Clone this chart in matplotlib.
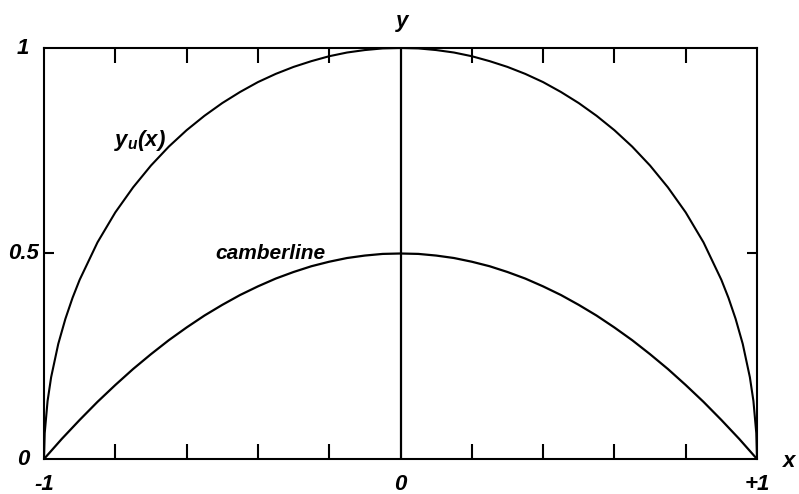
import matplotlib
matplotlib.use("Agg")
import matplotlib.pyplot as plt
from matplotlib import font_manager

# upper surface y_u(x)
x_upper = [-1, -0.998, -0.99, -0.98, -0.96, -0.94, -0.92, -0.9, -0.85, -0.8, -0.75, -0.7, -0.65,
           -0.6, -0.55, -0.5, -0.45, -0.4, -0.35, -0.3, -0.25, -0.2, -0.15, -0.1, -0.05, 0,
           0.05, 0.1, 0.15, 0.2, 0.25, 0.3, 0.35, 0.4, 0.45, 0.5, 0.55, 0.6, 0.65, 0.7, 0.75,
           0.8, 0.85, 0.9, 0.92, 0.94, 0.96, 0.98, 0.99, 0.998, 1]
y_upper = [0, 0.063, 0.141, 0.199, 0.28, 0.341, 0.392, 0.436, 0.527, 0.6, 0.661, 0.714, 0.76,
           0.8, 0.835, 0.866, 0.893, 0.917, 0.937, 0.954, 0.968, 0.98, 0.989, 0.995, 0.999, 1.0,
           0.999, 0.995, 0.989, 0.98, 0.968, 0.954, 0.937, 0.917, 0.893, 0.866, 0.835, 0.8, 0.76,
           0.714, 0.661, 0.6, 0.527, 0.436, 0.392, 0.341, 0.28, 0.199, 0.141, 0.063, 0]

# camberline
x_camber = [-1, -0.95, -0.9, -0.85, -0.8, -0.75, -0.7, -0.65, -0.6, -0.55, -0.5, -0.45, -0.4,
            -0.35, -0.3, -0.25, -0.2, -0.15, -0.1, -0.05, 0,
            0.05, 0.1, 0.15, 0.2, 0.25, 0.3, 0.35, 0.4, 0.45, 0.5, 0.55, 0.6, 0.65, 0.7,
            0.75, 0.8, 0.85, 0.9, 0.95, 1]
y_camber = [0, 0.049, 0.095, 0.139, 0.18, 0.219, 0.255, 0.289, 0.32, 0.349, 0.375, 0.399, 0.42,
            0.439, 0.455, 0.469, 0.48, 0.489, 0.495, 0.499, 0.5,
            0.499, 0.495, 0.489, 0.48, 0.469, 0.455, 0.439, 0.42, 0.399, 0.375, 0.349, 0.32,
            0.289, 0.255, 0.219, 0.18, 0.139, 0.095, 0.049, 0]

x_ticks = [-0.8, -0.6, -0.4, -0.2, 0.2, 0.4, 0.6, 0.8]
y_ticks = [0.5]
x_labels = ["-1", "0", "+1"]
x_label_pos = [-1, 0, 1]
y_labels = ["0", "0.5", "1"]
y_label_pos = [0, 0.5, 1]

names = {f.name for f in font_manager.fontManager.ttflist}
fam = "Liberation Sans Narrow" if "Liberation Sans Narrow" in names else "Liberation Sans"
plt.rcParams['font.family'] = [fam, 'DejaVu Sans']
plt.rcParams['mathtext.fontset'] = 'custom'
plt.rcParams['mathtext.it'] = fam + ':italic:bold'
plt.rcParams['mathtext.rm'] = fam + ':italic:bold'

fig = plt.figure(figsize=(7.99, 4.94), dpi=100)
ax = fig.add_axes([44/799, 35/494, 713/799, 411/494])

ax.plot(x_upper, y_upper, color='black', lw=1.5)
ax.plot(x_camber, y_camber, color='black', lw=1.6)
ax.axvline(0, color='black', lw=1.6)

ax.set_xlim(-1, 1)
ax.set_ylim(0, 1)
for s in ax.spines.values():
    s.set_linewidth(1.5)

ax.set_xticks(x_ticks)
ax.set_yticks(y_ticks)
ax.tick_params(axis='x', direction='in', top=True, bottom=True, length=11, width=1.5,
               labelbottom=False)
ax.tick_params(axis='y', direction='in', left=True, right=True, length=7, width=1.5,
               labelleft=False)

tfont = dict(fontsize=16, fontweight='bold', fontstyle='italic', color='black')
for lab, p in zip(x_labels, x_label_pos):
    ax.annotate(lab, xy=(p, 0), xycoords='data', xytext=(0, -18), textcoords='offset points',
                ha='center', va='center', **tfont)
for lab, p in zip(y_labels, y_label_pos):
    ax.annotate(lab, xy=(-1, p), xycoords='data', xytext=(-15, 0), textcoords='offset points',
                ha='center', va='center', **tfont)

ax.annotate("x", xy=(1, 0), xytext=(23, -2), textcoords='offset points',
            ha='center', va='center', **tfont)
ax.annotate("y", xy=(0, 1), xytext=(1, 19), textcoords='offset points',
            ha='center', va='center', **tfont)

ax.text(-0.73, 0.775, r"$y_u(x)$", fontsize=16, ha='center', va='center')
ax.text(-0.365, 0.50, "camberline", fontsize=15, ha='center', va='center',
        fontweight='bold', fontstyle='italic')

fig.savefig("out.png", dpi=100)
